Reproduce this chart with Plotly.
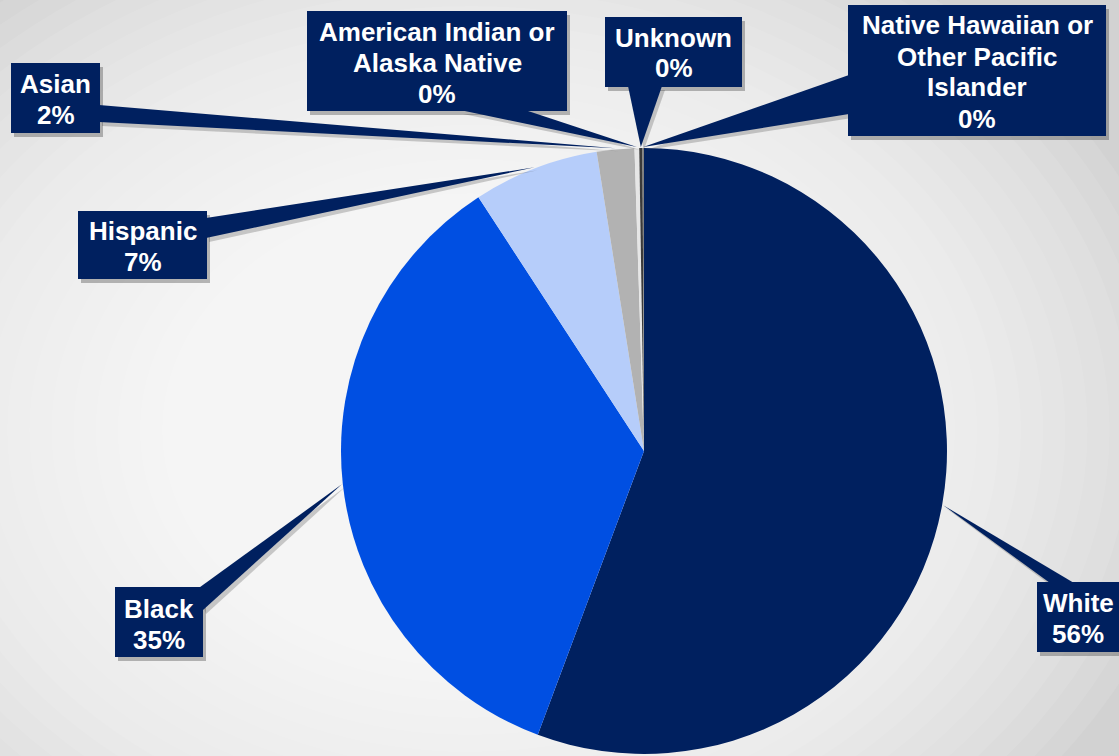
import math
import plotly.graph_objects as go

# ---------------- data ----------------
categories = ["White", "Black", "Hispanic", "Asian",
              "American Indian or<br>Alaska Native", "Unknown",
              "Native Hawaiian or<br>Other Pacific<br>Islander"]
values = [55.7, 35.1, 6.7, 2.0, 0.25, 0.17, 0.08]
colors = ["#00205F", "#004FE2", "#B6CDFA", "#B2B2B2", "#E6E6E6", "#3A3A3A", "#808080"]

# ---------------- layout constants (pixels) ----------------
W, H = 1119, 756
CX, CY, R = 644, 451, 303

def px(x):
    return x / W

def py(y):
    return 1 - y / H

# label boxes (x0, y0, x1, y1) and wedge base points, in pixels
boxes = [
    (1037, 582, 1125, 652),   # White
    (115, 587, 203, 657),     # Black
    (78, 211, 207, 279),      # Hispanic
    (11, 63, 100, 133),       # Asian
    (307, 11, 567, 111),      # AI/AN
    (605, 17, 742, 87),       # Unknown
    (848, 5, 1106, 136),      # NHOPI
]
bases = [
    ((1050, 583), (1074, 583)),
    ((196, 590), (203, 610)),
    ((206, 218), (206, 238)),
    ((99, 105), (99, 122)),
    ((460, 110), (525, 110)),
    ((628, 86), (662, 86)),
    ((849, 75), (849, 114)),
]
text_center_y = [618, 624, 246, 99, 63, 53, 72]
LINE_STEP = 31

NAVY = "#00205F"

fig = go.Figure()
fig.add_trace(go.Pie(
    labels=categories,
    values=values,
    sort=False,
    direction="clockwise",
    rotation=0,
    marker=dict(colors=colors, line=dict(width=0)),
    textinfo="none",
    hoverinfo="skip",
    showlegend=False,
    domain=dict(x=[px(CX - R), px(CX + R)], y=[py(CY + R), py(CY - R)]),
))

shapes = []
# background radial gradient (stack of translucent white ellipses)
gcx, gcy = 470, 430
for i in range(32):
    ry = 560 - i * 17
    rx = ry * 1.3
    shapes.append(dict(type="circle", xref="paper", yref="paper",
                       x0=px(gcx - rx), x1=px(gcx + rx), y0=py(gcy + ry), y1=py(gcy - ry),
                       fillcolor="white", opacity=0.09, line=dict(width=0), layer="below"))

total = sum(values)
cum = 0.0
annotations = []
for i, v in enumerate(values):
    mid = (cum + v / 2) / total * 2 * math.pi
    cum += v
    tx = CX + (R + 1) * math.sin(mid)
    ty = CY - (R + 1) * math.cos(mid)
    (ax, ay), (bx, by) = bases[i]
    x0, y0, x1, y1 = boxes[i]
    # shadow
    shapes.append(dict(type="path", xref="paper", yref="paper",
                       path=f"M {px(ax+3)} {py(ay+4)} L {px(tx+3)} {py(ty+3)} L {px(bx+3)} {py(by+4)} Z",
                       fillcolor="rgba(60,60,60,0.25)", line=dict(width=0), layer="above"))
    shapes.append(dict(type="rect", xref="paper", yref="paper",
                       x0=px(x0 + 3), x1=px(x1 + 3), y0=py(y1 + 4), y1=py(y0 + 4),
                       fillcolor="rgba(60,60,60,0.35)", line=dict(width=0), layer="above"))
    # wedge leader
    shapes.append(dict(type="path", xref="paper", yref="paper",
                       path=f"M {px(ax)} {py(ay)} L {px(tx)} {py(ty)} L {px(bx)} {py(by)} Z",
                       fillcolor=NAVY, line=dict(width=0), layer="above"))
    # box
    shapes.append(dict(type="rect", xref="paper", yref="paper",
                       x0=px(x0), x1=px(x1), y0=py(y1), y1=py(y0),
                       fillcolor=NAVY, line=dict(width=0), layer="above"))
    lines = categories[i].split("<br>") + [f"{round(v / total * 100)}%"]
    n = len(lines)
    cxm = (x0 + min(x1, W)) / 2
    for k, line in enumerate(lines):
        yc = text_center_y[i] + (k - (n - 1) / 2) * LINE_STEP
        annotations.append(dict(x=px(cxm), y=py(yc), xref="paper", yref="paper",
                                text=f"<b>{line}</b>", showarrow=False,
                                xanchor="center", yanchor="middle", align="center",
                                font=dict(family="Liberation Sans, Arial, sans-serif",
                                          size=26, color="white")))

fig.update_layout(
    width=W, height=H,
    margin=dict(l=0, r=0, t=0, b=0),
    paper_bgcolor="#d2d2d2",
    plot_bgcolor="rgba(0,0,0,0)",
    shapes=shapes,
    annotations=annotations,
    showlegend=False,
)

fig.write_html("out.html",
               config={"displayModeBar": False},
               post_script="document.body.style.margin='0';document.body.style.overflow='hidden';")
